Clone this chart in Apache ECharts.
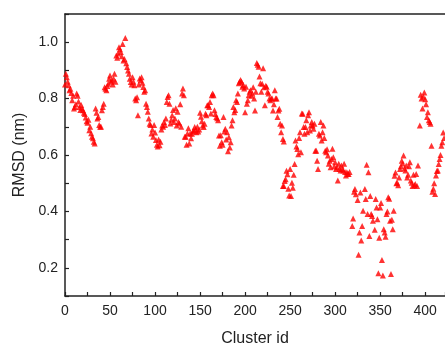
<!DOCTYPE html>
<html><head><meta charset="utf-8">
<script src="https://cdn.jsdelivr.net/npm/echarts@6/dist/echarts.min.js"></script>
<style>html,body{margin:0;padding:0;background:#fff}#c{width:445px;height:344px}</style>
</head><body><div id="c"></div>
<script>
var clusterIds = [0,1,2,3,4,5,6,7,8,9,10,11,12,13,14,15,16,17,18,19,20,21,22,23,24,25,26,27,28,29,30,31,32,33,34,35,36,37,38,39,40,41,42,43,44,45,
46,47,48,49,50,51,52,53,54,55,56,57,58,59,60,61,62,63,64,65,66,67,68,69,70,71,72,73,74,75,76,77,78,79,80,81,82,83,84,85,86,87,88,89,90,
91,92,93,94,95,96,97,98,99,100,101,102,103,104,105,106,107,108,109,110,111,112,113,114,115,116,117,118,119,120,121,122,123,124,125,126,127,128,129,130,
131,132,133,134,135,136,137,138,139,140,141,142,143,144,145,146,147,148,149,150,151,152,153,154,155,156,157,158,159,160,161,162,163,164,165,166,167,168,169,170,
171,172,173,174,175,176,177,178,179,180,181,182,183,184,185,186,187,188,189,190,191,192,193,194,195,196,197,198,199,200,201,202,203,204,205,206,207,208,209,210,
211,212,213,214,215,216,217,218,219,220,221,222,223,224,225,226,227,228,229,230,231,232,233,234,235,236,237,238,239,240,241,242,243,
242,243,244,245,246,247,248,249,250,251,252,253,254,255,256,257,258,259,260,261,262,263,264,265,266,267,268,269,270,
271,272,273,274,275,276,277,278,279,280,281,282,283,284,285,286,287,288,289,290,291,292,293,294,295,296,297,298,299,300,
301,302,303,304,305,306,307,308,309,310,311,312,313,314,315,316,
319,320,321,322,323,325,326,327,328,329,330,331,333,334,335,336,337,338,339,340,341,342,344,345,346,347,348,349,350,
351,352,353,354,355,356,357,358,359,360,361,362,363,364,365,
366,367,368,369,370,371,372,373,374,375,376,377,378,379,380,381,382,383,384,385,386,387,388,389,390,391,392,
394,395,396,397,398,399,400,401,402,403,404,405,406,407,408,409,410,411,412,413,414,415,416,417,418,419,420,421];
var rmsdValues = [0.85,0.888,0.876,0.86,0.847,0.83,0.835,0.82,0.794,0.81,0.765,0.77,0.78,0.818,0.81,0.79,0.77,0.76,0.777,0.765,0.759,0.75,0.745,0.733,0.72,0.714,0.725,0.688,0.70,0.677,0.665,0.659,0.647,0.641,0.765,0.75,0.729,0.735,0.706,0.70,0.70,0.759,0.77,0.782,0.84,0.835,
0.83,0.845,0.853,0.87,0.882,0.86,0.865,0.85,0.87,0.888,0.86,0.953,0.945,0.96,0.982,0.975,0.965,0.95,0.994,0.935,0.94,1.015,0.925,0.912,0.90,0.888,0.87,0.859,0.85,0.876,0.86,0.847,0.80,0.794,0.805,0.741,0.85,0.871,0.865,0.876,0.856,0.841,0.824,0.83,0.782,
0.77,0.753,0.729,0.711,0.706,0.676,0.69,0.665,0.706,0.68,0.653,0.636,0.63,0.655,0.635,0.647,0.69,0.705,0.70,0.717,0.706,0.729,0.788,0.806,0.812,0.782,0.712,0.725,0.741,0.76,0.717,0.729,0.766,0.705,0.753,0.717,0.712,0.78,0.70,0.818,
0.836,0.812,0.665,0.665,0.636,0.676,0.695,0.641,0.676,0.659,0.675,0.683,0.687,0.699,0.69,0.681,0.70,0.683,0.69,0.75,0.736,0.72,0.705,0.699,0.711,0.746,0.741,0.776,0.776,0.77,0.788,0.747,0.812,0.818,0.812,0.759,0.745,0.735,0.73,0.723,
0.669,0.633,0.67,0.645,0.636,0.735,0.683,0.693,0.655,0.681,0.613,0.663,0.627,0.645,0.705,0.723,0.770,0.752,0.76,0.794,0.788,0.818,0.854,0.86,0.866,0.86,0.842,0.848,0.836,0.752,0.842,0.782,0.794,0.812,0.824,0.83,0.81,0.818,0.84,0.80,
0.758,0.824,0.926,0.92,0.913,0.878,0.854,0.824,0.853,0.908,0.84,0.776,0.846,0.842,0.824,0.818,0.80,0.794,0.80,0.80,0.758,0.78,0.83,0.80,0.80,0.735,0.758,0.764,0.711,0.681,0.705,0.657,0.648,
0.49,0.49,0.508,0.514,0.544,0.532,0.48,0.456,0.55,0.455,0.502,0.484,0.53,0.568,0.651,0.63,0.621,0.603,0.66,0.681,0.61,0.747,0.746,0.699,0.675,0.699,0.723,0.681,0.741,
0.752,0.687,0.705,0.717,0.705,0.693,0.711,0.615,0.615,0.58,0.55,0.675,0.669,0.717,0.651,0.681,0.705,0.66,0.615,0.61,0.62,0.598,0.569,0.58,0.557,0.586,0.622,0.592,0.56,0.574,
0.55,0.557,0.51,0.569,0.55,0.545,0.563,0.55,0.545,0.569,0.54,0.527,0.539,0.533,0.533,0.54,
0.348,0.375,0.47,0.479,0.461,0.44,0.246,0.325,0.467,0.297,0.348,0.402,0.479,0.444,0.565,0.391,0.539,0.313,0.455,0.391,0.384,0.367,0.335,0.444,0.414,0.372,0.181,0.307,0.414,
0.43,0.228,0.173,0.337,0.325,0.31,0.391,0.40,0.45,0.445,0.367,0.178,0.37,0.337,0.402,
0.526,0.538,0.50,0.502,0.493,0.52,0.55,0.56,0.58,0.57,0.598,0.552,0.545,0.563,0.52,0.53,0.56,0.574,0.51,0.502,0.49,0.53,0.493,0.497,0.533,0.49,0.563,
0.705,0.814,0.80,0.765,0.807,0.822,0.798,0.78,0.735,0.752,0.723,0.717,0.711,0.633,0.47,0.48,0.50,0.462,0.527,0.543,0.545,0.568,0.586,0.60,0.633,0.645,0.68,0.66];
var xTickLabels = [0,50,100,150,200,250,300,350,400];
var yTickLabels = [0.2,0.4,0.6,0.8,1.0];

var points = clusterIds.map(function(id,i){return [id, rmsdValues[i]];});
var font = 'Liberation Sans, Arial, sans-serif';
var chart = echarts.init(document.getElementById('c'), null, {renderer:'canvas'});
chart.setOption({
  animation:false,
  backgroundColor:'#fff',
  grid:{left:65, top:14, right:0, bottom:48, containLabel:false, outerBoundsMode:'none'},
  xAxis:[{
    type:'value', min:0, max:422, interval:25, position:'bottom',
    name:'Cluster id', nameLocation:'middle', nameGap:35,
    nameTextStyle:{fontSize:16, color:'#222', fontFamily:font},
    axisLine:{show:true, onZero:false, lineStyle:{color:'#222', width:1.5}},
    axisTick:{show:true, inside:true, length:4, lineStyle:{color:'#222', width:1.2}},
    axisLabel:{fontSize:14, color:'#222', fontFamily:font, margin:8,
      formatter:function(v){return xTickLabels.indexOf(Math.round(v))>=0 && Math.abs(v-Math.round(v))<1e-6 ? String(Math.round(v)) : '';}},
    splitLine:{show:false}
  },{
    type:'value', min:0, max:422, position:'top',
    axisLine:{show:true, onZero:false, lineStyle:{color:'#222', width:1.5}},
    axisTick:{show:false}, axisLabel:{show:false}, splitLine:{show:false}
  }],
  yAxis:[{
    type:'value', min:0.1, max:1.1, interval:0.1, position:'left',
    name:'RMSD (nm)', nameLocation:'middle', nameGap:36, nameRotate:90,
    nameTextStyle:{fontSize:16, color:'#222', fontFamily:font},
    axisLine:{show:true, onZero:false, lineStyle:{color:'#222', width:1.5}},
    axisTick:{show:true, inside:true, length:4, lineStyle:{color:'#222', width:1.2}},
    axisLabel:{fontSize:14, color:'#222', fontFamily:font, margin:7,
      formatter:function(v){var r=Math.round(v*10)/10; for(var i=0;i<yTickLabels.length;i++){if(Math.abs(yTickLabels[i]-r)<1e-6) return r.toFixed(1);} return '';}},
    splitLine:{show:false}
  }],
  series:[{
    type:'scatter', xAxisIndex:0, yAxisIndex:0,
    symbol:'triangle', symbolSize:6,
    itemStyle:{color:'#ff0000'},
    data:points
  }]
});
</script>
</body></html>
